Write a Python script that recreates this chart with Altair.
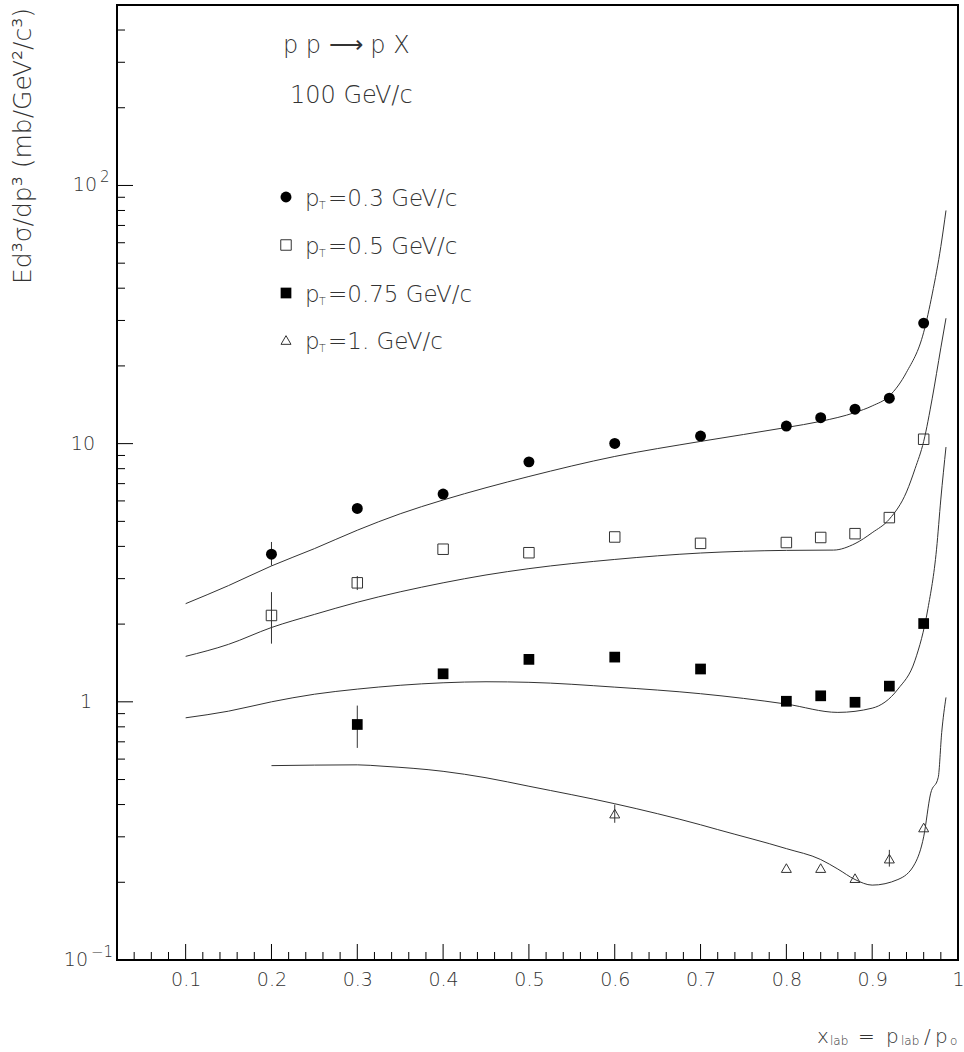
import altair as alt
import pandas as pd

# ---------------- data ----------------
# measured points (p p -> p X, 100 GeV/c)
pts1_x = [0.2, 0.3, 0.4, 0.5, 0.6, 0.7, 0.8, 0.84, 0.88, 0.92, 0.96]
pts1_y = [3.73, 5.61, 6.38, 8.50, 10.02, 10.7, 11.7, 12.6, 13.6, 15.0, 29.3]
pts2_x = [0.2, 0.3, 0.4, 0.5, 0.6, 0.7, 0.8, 0.84, 0.88, 0.92, 0.96]
pts2_y = [2.16, 2.89, 3.90, 3.78, 4.35, 4.11, 4.14, 4.33, 4.48, 5.17, 10.4]
pts3_x = [0.3, 0.4, 0.5, 0.6, 0.7, 0.8, 0.84, 0.88, 0.92, 0.96]
pts3_y = [0.817, 1.284, 1.46, 1.49, 1.34, 1.005, 1.055, 0.996, 1.15, 2.01]
pts4_x = [0.6, 0.8, 0.84, 0.88, 0.92, 0.96]
pts4_y = [0.369, 0.227, 0.227, 0.2075, 0.247, 0.326]

# error bars
err_x = [0.2, 0.2, 0.3, 0.3, 0.6, 0.92]
err_lo = [3.37, 1.68, 2.71, 0.663, 0.34, 0.23]
err_hi = [4.16, 2.66, 3.07, 0.967, 0.40, 0.267]

# model curves
c1_x = [0.1, 0.15, 0.2, 0.25, 0.3, 0.35, 0.4, 0.45, 0.5, 0.6, 0.7, 0.8, 0.84, 0.88, 0.9, 0.92, 0.94, 0.96, 0.97, 0.98, 0.986]
c1_y = [2.40, 2.82, 3.36, 3.92, 4.62, 5.35, 6.05, 6.75, 7.46, 8.92, 10.2, 11.55, 12.2, 13.2, 14.0, 15.3, 18.9, 27.0, 38.0, 58.0, 80.0]
c2_x = [0.1, 0.15, 0.2, 0.25, 0.3, 0.4, 0.45, 0.5, 0.6, 0.7, 0.8, 0.855, 0.88, 0.9, 0.92, 0.94, 0.95, 0.96, 0.97, 0.98, 0.986]
c2_y = [1.50, 1.67, 1.94, 2.18, 2.43, 2.89, 3.10, 3.28, 3.56, 3.77, 3.86, 3.87, 4.1, 4.52, 5.1, 6.5, 8.0, 10.2, 15.0, 23.5, 30.6]
c3_x = [0.1, 0.15, 0.2, 0.25, 0.3, 0.4, 0.45, 0.5, 0.6, 0.7, 0.8, 0.86, 0.9, 0.93, 0.95, 0.965, 0.975, 0.98, 0.986]
c3_y = [0.867, 0.92, 1.0, 1.07, 1.12, 1.185, 1.196, 1.19, 1.14, 1.075, 0.98, 0.91, 0.945, 1.12, 1.45, 2.3, 3.9, 6.1, 9.7]
c4_x = [0.2, 0.3, 0.33, 0.4, 0.45, 0.5, 0.6, 0.7, 0.72, 0.8, 0.84, 0.86, 0.88, 0.9, 0.93, 0.95, 0.96, 0.968, 0.977, 0.981, 0.986]
c4_y = [0.566, 0.57, 0.563, 0.538, 0.508, 0.471, 0.403, 0.334, 0.32, 0.27, 0.245, 0.225, 0.205, 0.195, 0.205, 0.237, 0.30, 0.44, 0.51, 0.76, 1.04]

legend_labels = ["=0.3 GeV/c", "=0.5 GeV/c", "=0.75 GeV/c", "=1. GeV/c"]

# axis ticks and labels
x_major = [0.1, 0.2, 0.3, 0.4, 0.5, 0.6, 0.7, 0.8, 0.9, 1.0]
x_minor = [round(0.02 * i, 2) for i in range(2, 50) if i % 5 != 0]
y_major = [0.1, 1, 10, 100]
y_minor = [0.2, 0.3, 0.4, 0.5, 0.6, 0.7, 0.8, 0.9,
           2, 3, 4, 5, 6, 7, 8, 9,
           20, 30, 40, 50, 60, 70, 80, 90,
           200, 300, 400, 500]
y_label_main = ["10", "1", "10", "10"]
y_label_sup = ["−1", "", "", "2"]

# ---------------- layout ----------------
W, H = 841, 955
FONT = "DejaVu Sans"
WEIGHT = 200
TXT = "#333333"

xscale = alt.Scale(domain=[0.02, 1.0], nice=False, zero=False)
yscale = alt.Scale(type="log", domain=[0.1, 500], nice=False)

xaxis = alt.Axis(values=x_major, ticks=False, domain=False, grid=False,
                 labelExpr="datum.value == 1 ? '1' : format(datum.value, '.1f')",
                 labelFont=FONT, labelFontSize=19, labelFontWeight=WEIGHT, labelColor=TXT,
                 labelPadding=10, labelFlush=False)
yaxis = alt.Axis(values=y_major, ticks=False, domain=False, grid=False, labels=False)


def X(f):
    return alt.X(f, type="quantitative", scale=xscale, axis=xaxis, title=None)


def Y(f):
    return alt.Y(f, type="quantitative", scale=yscale, axis=yaxis, title=None)


# dataframes
pts = pd.concat([
    pd.DataFrame({"x": pts1_x, "y": pts1_y, "s": "a"}),
    pd.DataFrame({"x": pts2_x, "y": pts2_y, "s": "b"}),
    pd.DataFrame({"x": pts3_x, "y": pts3_y, "s": "c"}),
    pd.DataFrame({"x": pts4_x, "y": pts4_y, "s": "d"}),
])
curves = pd.concat([
    pd.DataFrame({"x": c1_x, "y": c1_y, "c": "1"}),
    pd.DataFrame({"x": c2_x, "y": c2_y, "c": "2"}),
    pd.DataFrame({"x": c3_x, "y": c3_y, "c": "3"}),
    pd.DataFrame({"x": c4_x, "y": c4_y, "c": "4"}),
])
errs = pd.DataFrame({"x": err_x, "lo": err_lo, "hi": err_hi})

lines = alt.Chart(curves).mark_line(color="#333333", strokeWidth=1, interpolate="monotone", clip=True).encode(
    x=X("x"), y=Y("y"), detail="c:N")

errbars = alt.Chart(errs).mark_rule(color="#333333", strokeWidth=1).encode(
    x=X("x"), y=Y("lo"), y2="hi")

p1 = alt.Chart(pts[pts.s == "a"]).mark_point(shape="circle", filled=True, color="black", size=120, opacity=1).encode(x=X("x"), y=Y("y"))
p2 = alt.Chart(pts[pts.s == "b"]).mark_point(shape="square", filled=False, stroke="#333333", strokeWidth=1, size=110, opacity=1).encode(x=X("x"), y=Y("y"))
p3 = alt.Chart(pts[pts.s == "c"]).mark_point(shape="square", filled=True, color="black", size=115, opacity=1).encode(x=X("x"), y=Y("y"))
p4 = alt.Chart(pts[pts.s == "d"]).mark_point(shape="triangle-up", filled=False, stroke="#333333", strokeWidth=1, size=100, opacity=1).encode(x=X("x"), y=Y("y"))

# inside ticks
yt_major = alt.Chart(pd.DataFrame({"v": y_major})).mark_rule(color="black", strokeWidth=1).encode(
    y=Y("v"), x=alt.value(0), x2=alt.value(16))
yt_minor = alt.Chart(pd.DataFrame({"v": y_minor})).mark_rule(color="black", strokeWidth=1).encode(
    y=Y("v"), x=alt.value(0), x2=alt.value(8))
xt_major = alt.Chart(pd.DataFrame({"v": x_major})).mark_rule(color="black", strokeWidth=1).encode(
    x=X("v"), y=alt.value(H), y2=alt.value(H - 16))
xt_minor = alt.Chart(pd.DataFrame({"v": x_minor})).mark_rule(color="black", strokeWidth=1).encode(
    x=X("v"), y=alt.value(H), y2=alt.value(H - 8))

# y tick labels (main part right aligned, exponent as raised small text)
ylab_x = [-29, -25, -22, -20]
ylabels = []
for v, main, sup, xx in zip(y_major, y_label_main, y_label_sup, ylab_x):
    df = pd.DataFrame({"v": [v], "t": [main], "s": [sup]})
    ylabels.append(alt.Chart(df).mark_text(font=FONT, fontSize=19, fontWeight=WEIGHT, color=TXT,
                                           align="right", baseline="middle").encode(
        y=Y("v"), x=alt.value(xx), text="t:N"))
    if sup:
        ylabels.append(alt.Chart(df).mark_text(font=FONT, fontSize=15, fontWeight=WEIGHT, color=TXT,
                                               align="left", baseline="middle", dy=-8).encode(
            y=Y("v"), x=alt.value(xx + 3), text="s:N"))


def label(text, x, y, size, align="left", baseline="alphabetic", angle=0):
    kw = dict(font=FONT, fontSize=size, fontWeight=WEIGHT, color=TXT, align=align, baseline=baseline)
    if angle:
        kw["angle"] = angle
    return alt.Chart(pd.DataFrame({"t": [text]})).mark_text(**kw).encode(
        text="t:N", x=alt.value(x), y=alt.value(y))


annots = [
    label("p p ⟶ p X", 166, 48, 24),
    label("100 GeV/c", 173, 98, 24),
    # y title
    label("Ed³σ/dp³   (mb/GeV²/c³)", -94, 3, 25, align="right", baseline="middle", angle=270),
    # x title
    label("x", 700, 1038, 20),
    label("lab", 713, 1040, 12),
    label("=", 741, 1038, 20),
    label("p", 769, 1038, 20),
    label("lab", 784, 1040, 12),
    label("/", 807, 1038, 20),
    label("p", 818, 1038, 20),
    label("o", 833, 1040, 12),
]

# legend
leg_y = [192, 240, 288, 335]
leg_marks = [
    alt.Chart(pd.DataFrame({"k": [0]})).mark_point(shape="circle", filled=True, color="black", size=120, opacity=1).encode(x=alt.value(169), y=alt.value(leg_y[0])),
    alt.Chart(pd.DataFrame({"k": [0]})).mark_point(shape="square", filled=False, stroke="#333333", strokeWidth=1, size=110, opacity=1).encode(x=alt.value(169), y=alt.value(leg_y[1])),
    alt.Chart(pd.DataFrame({"k": [0]})).mark_point(shape="square", filled=True, color="black", size=115, opacity=1).encode(x=alt.value(169), y=alt.value(leg_y[2])),
    alt.Chart(pd.DataFrame({"k": [0]})).mark_point(shape="triangle-up", filled=False, stroke="#333333", strokeWidth=1, size=100, opacity=1).encode(x=alt.value(169), y=alt.value(leg_y[3])),
]
for yy, lab in zip(leg_y, legend_labels):
    annots.append(label("p", 188, yy + 9, 23))
    annots.append(label("T", 202, yy + 12, 11))
    annots.append(label(lab, 211, yy + 9, 23))

chart = alt.layer(
    xt_minor, xt_major, yt_minor, yt_major,
    lines, errbars, p1, p2, p3, p4,
    *ylabels, *leg_marks, *annots
).properties(
    width=W, height=H,
    autosize=alt.AutoSizeParams(type="none"),
    padding={"left": 117, "top": 5, "right": 6, "bottom": 92},
    background="white",
).configure_view(stroke="black", strokeWidth=2)

chart.save("out.html", embed_options={"renderer": "svg", "actions": False})
